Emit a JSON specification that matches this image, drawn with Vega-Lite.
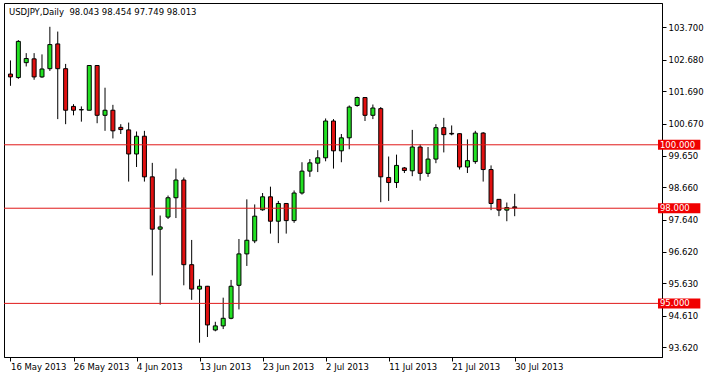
{
  "$schema": "https://vega.github.io/schema/vega-lite/v6.json",
  "width": 658,
  "height": 354,
  "autosize": {"type": "none"},
  "padding": {"left": 4, "top": 3, "right": 42, "bottom": 19},
  "background": "white",
  "config": {
    "view": {"stroke": "black", "strokeWidth": 1},
    "axis": {
      "labelFont": "DejaVu Sans",
      "labelFontSize": 8.5,
      "labelColor": "black",
      "tickColor": "black",
      "domainColor": "black",
      "grid": false,
      "labelOverlap": false,
      "labelFlush": false,
      "title": null
    }
  },
  "title": {
    "text": "USDJPY,Daily\u00a0 98.043 98.454 97.749 98.013",
    "anchor": "start",
    "frame": "group",
    "offset": -13,
    "dx": 5,
    "font": "DejaVu Sans",
    "fontSize": 8.5,
    "fontWeight": "normal",
    "color": "black"
  },
  "datasets": {
    "candles": [
      {"date": "2013-05-16", "open": 102.23, "high": 102.66, "low": 101.86, "close": 102.14},
      {"date": "2013-05-17", "open": 102.12, "high": 103.30, "low": 102.08, "close": 103.26},
      {"date": "2013-05-19", "open": 102.59, "high": 102.89, "low": 102.47, "close": 102.72},
      {"date": "2013-05-20", "open": 102.71, "high": 102.89, "low": 102.05, "close": 102.14},
      {"date": "2013-05-21", "open": 102.14, "high": 102.85, "low": 102.11, "close": 102.39},
      {"date": "2013-05-22", "open": 102.40, "high": 103.72, "low": 102.33, "close": 103.16},
      {"date": "2013-05-23", "open": 103.18, "high": 103.57, "low": 100.81, "close": 102.40},
      {"date": "2013-05-24", "open": 102.40, "high": 102.55, "low": 100.65, "close": 101.09},
      {"date": "2013-05-26", "open": 101.21, "high": 101.28, "low": 100.93, "close": 101.09},
      {"date": "2013-05-27", "open": 101.11, "high": 101.21, "low": 100.73, "close": 101.10},
      {"date": "2013-05-28", "open": 101.09, "high": 102.51, "low": 101.09, "close": 102.50},
      {"date": "2013-05-29", "open": 102.50, "high": 102.51, "low": 100.68, "close": 100.93},
      {"date": "2013-05-30", "open": 100.93, "high": 101.80, "low": 100.44, "close": 101.09},
      {"date": "2013-05-31", "open": 101.09, "high": 101.26, "low": 100.20, "close": 100.44},
      {"date": "2013-06-02", "open": 100.55, "high": 100.65, "low": 100.34, "close": 100.48},
      {"date": "2013-06-03", "open": 100.47, "high": 100.70, "low": 98.84, "close": 99.71},
      {"date": "2013-06-04", "open": 99.71, "high": 100.42, "low": 99.30, "close": 100.27},
      {"date": "2013-06-05", "open": 100.27, "high": 100.44, "low": 98.84, "close": 98.99},
      {"date": "2013-06-06", "open": 98.99, "high": 99.43, "low": 95.88, "close": 97.34},
      {"date": "2013-06-07", "open": 97.34, "high": 97.77, "low": 94.96, "close": 97.41},
      {"date": "2013-06-09", "open": 97.72, "high": 98.40, "low": 97.66, "close": 98.33},
      {"date": "2013-06-10", "open": 98.33, "high": 99.25, "low": 97.69, "close": 98.89},
      {"date": "2013-06-11", "open": 98.89, "high": 98.97, "low": 95.57, "close": 96.22},
      {"date": "2013-06-12", "open": 96.22, "high": 97.00, "low": 95.11, "close": 95.45},
      {"date": "2013-06-13", "open": 95.45, "high": 95.76, "low": 93.76, "close": 95.54},
      {"date": "2013-06-14", "open": 95.54, "high": 95.55, "low": 93.94, "close": 94.32},
      {"date": "2013-06-16", "open": 94.16, "high": 94.42, "low": 94.12, "close": 94.29},
      {"date": "2013-06-17", "open": 94.29, "high": 95.18, "low": 94.19, "close": 94.53},
      {"date": "2013-06-18", "open": 94.53, "high": 95.74, "low": 94.50, "close": 95.54},
      {"date": "2013-06-19", "open": 95.57, "high": 97.03, "low": 94.81, "close": 96.56},
      {"date": "2013-06-20", "open": 96.56, "high": 98.28, "low": 96.18, "close": 96.99},
      {"date": "2013-06-21", "open": 96.97, "high": 98.12, "low": 96.90, "close": 97.75},
      {"date": "2013-06-23", "open": 97.95, "high": 98.48, "low": 97.92, "close": 98.36},
      {"date": "2013-06-24", "open": 98.36, "high": 98.68, "low": 97.20, "close": 97.59},
      {"date": "2013-06-25", "open": 97.59, "high": 98.23, "low": 96.90, "close": 98.15},
      {"date": "2013-06-26", "open": 98.15, "high": 98.16, "low": 97.20, "close": 97.61},
      {"date": "2013-06-27", "open": 97.61, "high": 98.56, "low": 97.54, "close": 98.48},
      {"date": "2013-06-28", "open": 98.48, "high": 99.45, "low": 98.43, "close": 99.17},
      {"date": "2013-06-30", "open": 99.17, "high": 99.55, "low": 98.99, "close": 99.43},
      {"date": "2013-07-01", "open": 99.42, "high": 99.83, "low": 99.14, "close": 99.59},
      {"date": "2013-07-02", "open": 99.59, "high": 100.83, "low": 99.48, "close": 100.75},
      {"date": "2013-07-03", "open": 100.75, "high": 100.81, "low": 99.25, "close": 99.81},
      {"date": "2013-07-04", "open": 99.81, "high": 100.34, "low": 99.45, "close": 100.22},
      {"date": "2013-07-05", "open": 100.22, "high": 101.24, "low": 99.86, "close": 101.19},
      {"date": "2013-07-07", "open": 101.24, "high": 101.52, "low": 101.20, "close": 101.49},
      {"date": "2013-07-08", "open": 101.49, "high": 101.50, "low": 100.75, "close": 100.93},
      {"date": "2013-07-09", "open": 100.93, "high": 101.27, "low": 100.81, "close": 101.16},
      {"date": "2013-07-10", "open": 101.14, "high": 101.19, "low": 98.19, "close": 98.99},
      {"date": "2013-07-11", "open": 98.97, "high": 99.63, "low": 98.23, "close": 98.81},
      {"date": "2013-07-12", "open": 98.81, "high": 99.69, "low": 98.64, "close": 99.35},
      {"date": "2013-07-14", "open": 99.27, "high": 99.30, "low": 99.11, "close": 99.19},
      {"date": "2013-07-15", "open": 99.18, "high": 100.47, "low": 99.01, "close": 99.93},
      {"date": "2013-07-16", "open": 99.93, "high": 100.01, "low": 98.87, "close": 99.10},
      {"date": "2013-07-17", "open": 99.10, "high": 99.93, "low": 98.99, "close": 99.55},
      {"date": "2013-07-18", "open": 99.55, "high": 100.65, "low": 99.42, "close": 100.54},
      {"date": "2013-07-19", "open": 100.54, "high": 100.85, "low": 99.76, "close": 100.32},
      {"date": "2013-07-21", "open": 100.36, "high": 100.61, "low": 100.30, "close": 100.34},
      {"date": "2013-07-22", "open": 100.35, "high": 100.36, "low": 99.22, "close": 99.30},
      {"date": "2013-07-23", "open": 99.30, "high": 100.17, "low": 99.11, "close": 99.50},
      {"date": "2013-07-24", "open": 99.47, "high": 100.44, "low": 99.40, "close": 100.37},
      {"date": "2013-07-25", "open": 100.37, "high": 100.40, "low": 98.84, "close": 99.22},
      {"date": "2013-07-26", "open": 99.22, "high": 99.35, "low": 97.94, "close": 98.15},
      {"date": "2013-07-28", "open": 98.28, "high": 98.29, "low": 97.75, "close": 97.94},
      {"date": "2013-07-29", "open": 97.94, "high": 98.18, "low": 97.59, "close": 98.02},
      {"date": "2013-07-30", "open": 98.043, "high": 98.454, "low": 97.749, "close": 98.013}
    ],
    "levels": [
      {"level": 100.0},
      {"level": 98.0},
      {"level": 95.0}
    ]
  },
  "layer": [
    {
      "data": {"name": "candles"},
      "transform": [{"window": [{"op": "row_number", "as": "bar"}]}],
      "layer": [
        {
          "mark": {"type": "rule", "color": "black", "strokeWidth": 1},
          "encoding": {
            "x": {
              "field": "bar",
              "type": "quantitative",
              "scale": {"domain": [0.8125, 83.0625], "nice": false, "zero": false},
              "axis": {
                "orient": "bottom",
                "values": [1, 9, 17, 25, 33, 41, 49, 57, 65],
                "tickCount": 30,
                "labelExpr": "['16 May 2013','26 May 2013','4 Jun 2013','13 Jun 2013','23 Jun 2013','2 Jul 2013','11 Jul 2013','21 Jul 2013','30 Jul 2013'][(datum.value-1)/8]",
                "labelAlign": "left",
                "labelBaseline": "top",
                "labelOverlap": false,
                "tickSize": 4,
                "labelPadding": 1
              }
            },
            "y": {
              "field": "low",
              "type": "quantitative",
              "scale": {"domain": [93.467, 104.313], "nice": false, "zero": false},
              "axis": {
                "orient": "right",
                "values": [93.62, 94.61, 95.63, 96.62, 97.64, 98.66, 99.65, 100.67, 101.69, 102.68, 103.7],
                "tickCount": 30,
                "format": ".3f",
                "labelOverlap": false,
                "tickSize": 4,
                "labelPadding": 2
              }
            },
            "y2": {"field": "high"}
          }
        },
        {
          "mark": {"type": "bar", "orient": "vertical", "size": 4, "stroke": "black", "strokeWidth": 1},
          "encoding": {
            "x": {"field": "bar", "type": "quantitative"},
            "y": {"field": "open", "type": "quantitative"},
            "y2": {"field": "close"},
            "fill": {
              "condition": {"test": "datum.close >= datum.open", "value": "#22e022"},
              "value": "#e01010"
            }
          }
        }
      ]
    },
    {
      "data": {"name": "levels"},
      "layer": [
        {
          "mark": {"type": "rule", "color": "#e01818", "strokeWidth": 1},
          "encoding": {
            "y": {"field": "level", "type": "quantitative"}
          }
        },
        {
          "mark": {"type": "bar", "orient": "horizontal", "size": 10, "color": "#f00000"},
          "encoding": {
            "x": {"datum": 83.1875, "type": "quantitative"},
            "x2": {"datum": 88.5625},
            "y": {"field": "level", "type": "quantitative"}
          }
        },
        {
          "mark": {"type": "text", "align": "left", "baseline": "middle", "color": "white", "font": "DejaVu Sans", "fontSize": 8.5},
          "encoding": {
            "x": {"datum": 83.4375, "type": "quantitative"},
            "y": {"field": "level", "type": "quantitative"},
            "text": {"field": "level", "type": "quantitative", "format": ".3f"}
          }
        }
      ]
    }
  ]
}
